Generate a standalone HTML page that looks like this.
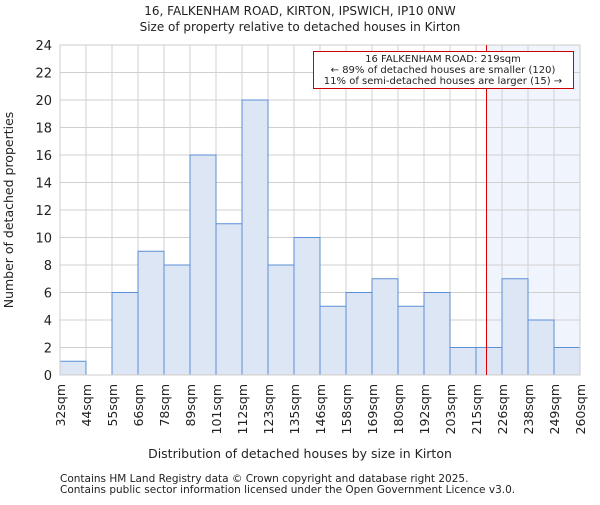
<!DOCTYPE html>
<html><head><meta charset="utf-8"><style>
body{margin:0;background:#fff;}
svg text{font-family:"DejaVu Sans","Liberation Sans",sans-serif;fill:#222;}
</style></head><body>
<svg id="c" width="600" height="500" xmlns="http://www.w3.org/2000/svg">
<text x="300" y="15" text-anchor="middle" font-size="12">16, FALKENHAM ROAD, KIRTON, IPSWICH, IP10 0NW</text>
<text x="300" y="31" text-anchor="middle" font-size="12">Size of property relative to detached houses in Kirton</text>
<g id="plot"></g>
<text x="300" y="458" text-anchor="middle" font-size="12.5">Distribution of detached houses by size in Kirton</text>
<text transform="translate(13,210) rotate(-90)" text-anchor="middle" font-size="12.5">Number of detached properties</text>
<text x="60" y="482" font-size="10.5" fill="#444">Contains HM Land Registry data © Crown copyright and database right 2025.</text>
<text x="60" y="493" font-size="10.5" fill="#444">Contains public sector information licensed under the Open Government Licence v3.0.</text>
</svg>
<script>
const categories=["32sqm","44sqm","55sqm","66sqm","78sqm","89sqm","101sqm","112sqm","123sqm","135sqm","146sqm","158sqm","169sqm","180sqm","192sqm","203sqm","215sqm","226sqm","238sqm","249sqm","260sqm"];
const counts=[1,0,6,9,8,16,11,20,8,10,5,6,7,5,6,2,2,7,4,2];
const yTicks=[0,2,4,6,8,10,12,14,16,18,20,22,24];
const markerBin=16, markerFrac=0.4;
const ns="http://www.w3.org/2000/svg";
const g=document.getElementById('plot');
const L=60,R=580,T=45,B=375,yMax=24;
const bw=(R-L)/counts.length;
const xs=i=>L+i*bw;
const ys=v=>B-(v/yMax)*(B-T);
function mk(t,a){const e=document.createElementNS(ns,t);for(const k in a)e.setAttribute(k,a[k]);g.appendChild(e);return e;}
const mx=Math.round(xs(markerBin+markerFrac))+0.5;
let e=mk('rect',{x:mx,y:T,width:R-mx,height:B-T,fill:'#f0f4fc'});


yTicks.forEach(v=>{
 let l=mk('line',{x1:L,x2:R,y1:ys(v),y2:ys(v),stroke:'#d0d0d0'});
 
 
 let t=mk('text',{x:L-8,y:ys(v)+5,'text-anchor':'end','font-size':'13'});t.textContent=v;
 
 
});
categories.forEach((c,i)=>{
 let l=mk('line',{x1:xs(i),x2:xs(i),y1:T,y2:B,stroke:'#d0d0d0'});
 
 
 let t=mk('text',{transform:`translate(${xs(i)+5},${B+9}) rotate(-90)`,'text-anchor':'end','font-size':'12.5'});t.textContent=c;
 
 
});
counts.forEach((v,i)=>{
 if(v<=0)return;
 let r=mk('rect',{x:xs(i),y:ys(v),width:bw,height:B-ys(v),fill:'#dce6f4',stroke:'#5b8fd6','stroke-width':1});
 
 
});
e=mk('rect',{x:L,y:T,width:R-L,height:B-T,fill:'none',stroke:'#cccccc'});


e=mk('line',{x1:mx,x2:mx,y1:T,y2:B,stroke:'#dd0000','stroke-width':1});


e=mk('rect',{x:313.5,y:51.5,width:260,height:37,fill:'#fff',stroke:'#cc0000'});


["16 FALKENHAM ROAD: 219sqm","← 89% of detached houses are smaller (120)","11% of semi-detached houses are larger (15) →"].forEach((s,k)=>{
 let t=mk('text',{x:443,y:62+k*11,'text-anchor':'middle','font-size':'10'});t.textContent=s;
 
 
});
</script>
</body></html>
